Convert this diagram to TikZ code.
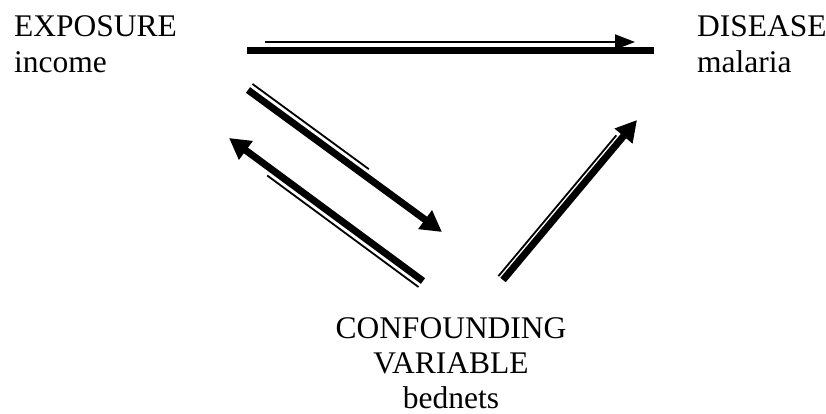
\documentclass[tikz,border=0pt]{standalone}
\usepackage{fontspec}
\setmainfont{Liberation Serif}
\usetikzlibrary{arrows.meta, calc}

\begin{document}
\begin{tikzpicture}[
  x=1pt, y=-1pt,
  lbl/.style={inner sep=0pt, font=\fontsize{31.5}{36}\selectfont},
  fat/.style={line width=7pt},
  fatarr/.style={line width=7pt, -{Triangle[length=21pt, width=22pt]}},
  slim/.style={line width=1.8pt},
  slimarr/.style={line width=1.8pt, -{Triangle[length=20pt, width=15pt]}}
]
\useasboundingbox (0,0) rectangle (826,414);

% ---- labels ----
\node[lbl, anchor=base west] (expo) at (14,37) {EXPOSURE};
\node[lbl, anchor=base west] (income) at (14,73) {income};
\node[lbl, anchor=base west] (dis) at (697,37) {DISEASE};
\node[lbl, anchor=base west] (malaria) at (697,73) {malaria};
\node[lbl, anchor=base] (conf) at (451,338) {CONFOUNDING};
\node[lbl, anchor=base] (var) at (451,373) {VARIABLE};
\node[lbl, anchor=base] (bed) at (451,408) {bednets};

% ---- arrow end points ----
\coordinate (topA) at (247,51);
\coordinate (topB) at (654,51);
\coordinate (topC) at (265,42);
\coordinate (topD) at (635,42);
\coordinate (downA) at (248,90);
\coordinate (downB) at (442,232);
\coordinate (upA) at (423,281);
\coordinate (upB) at (229,138);
\coordinate (rightA) at (503,280);
\coordinate (rightB) at (637,120);

% ---- exposure -> disease ----
\draw[fat] (topA) -- (topB);
\draw[slimarr] (topC) -- (topD);

% ---- exposure -> confounder ----
\draw[fatarr] (downA) -- (downB);
\draw[slim] ($(downA)!7.5pt!90:(downB)$) -- ($($(downA)!0.6!(downB)$)!7.5pt!90:(downB)$);

% ---- confounder -> exposure ----
\draw[fatarr] (upA) -- (upB);
\draw[slim] ($(upA)!7.5pt!90:(upB)$) -- ($($(upA)!0.78!(upB)$)!7.5pt!90:(upB)$);

% ---- confounder -> disease ----
\draw[fatarr] (rightA) -- (rightB);
\draw[slim] ($(rightA)!6pt!90:(rightB)$) -- ($($(rightA)!0.88!(rightB)$)!6pt!90:(rightB)$);

\end{tikzpicture}
\end{document}
